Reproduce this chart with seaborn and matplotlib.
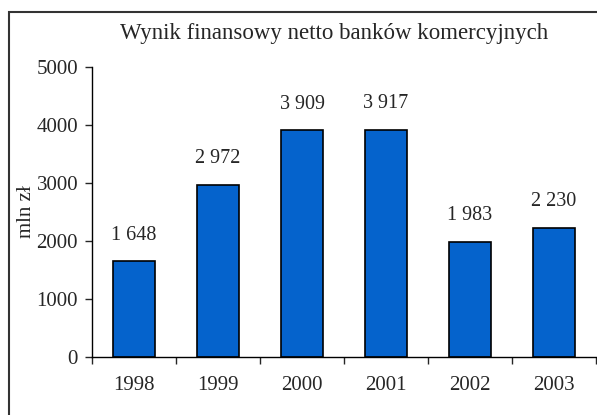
import numpy as np
import pandas as pd
import matplotlib
matplotlib.use("Agg")
import matplotlib.pyplot as plt
import seaborn as sns
from matplotlib.patches import Rectangle

# ================================
# Data
# ================================
years = ["1998", "1999", "2000", "2001", "2002", "2003"]
wynik = [1648, 2972, 3909, 3917, 1983, 2230]
labels = ["1 648", "2 972", "3 909", "3 917", "1 983", "2 230"]

df = pd.DataFrame({"Rok": years, "Wynik": wynik})

sns.set_style("white")
plt.rcParams["font.family"] = ["Liberation Serif", "DejaVu Serif"]

fig = plt.figure(figsize=(5.97, 4.15), dpi=100)
ax = fig.add_axes([92 / 597, 58 / 415, 504 / 597, 290 / 415])

sns.barplot(data=df, x="Rok", y="Wynik", color="#0563CC", saturation=1,
            width=0.49, edgecolor="black", linewidth=1.2, ax=ax)

# value labels above bars
for i, (v, t) in enumerate(zip(wynik, labels)):
    ax.annotate(t, (i, v), xytext=(0, 12), textcoords="offset points",
                ha="center", va="bottom", fontsize=14.5)

ax.set_xlim(-0.5, 5.5)
ax.set_ylim(0, 5000)
ax.set_yticks([0, 1000, 2000, 3000, 4000, 5000])
ax.set_xticks(np.arange(-0.5, 6, 1), minor=True)
ax.tick_params(axis="x", which="major", length=0, pad=14, labelsize=15)
ax.tick_params(axis="x", which="minor", length=5, width=1, direction="out",
               bottom=True)
ax.tick_params(axis="y", length=5, width=1, direction="out", left=True,
               pad=5, labelsize=15)
ax.set_xlabel("")
ax.set_ylabel("mln zł", fontsize=15, labelpad=0)

for s in ["top", "right"]:
    ax.spines[s].set_visible(False)
for s in ["left", "bottom"]:
    ax.spines[s].set_color("black")
    ax.spines[s].set_linewidth(1)

fig.text(334 / 597, 1 - 33 / 415, "Wynik finansowy netto banków komercyjnych",
         ha="center", va="center", fontsize=16.5)

# outer frame
fig.patches.append(Rectangle((9 / 597, -0.1), 1.2, 1 - 12 / 415 + 0.1,
                             transform=fig.transFigure, fill=False,
                             edgecolor="#333333", linewidth=1.5))

fig.savefig("out.png", dpi=100)
